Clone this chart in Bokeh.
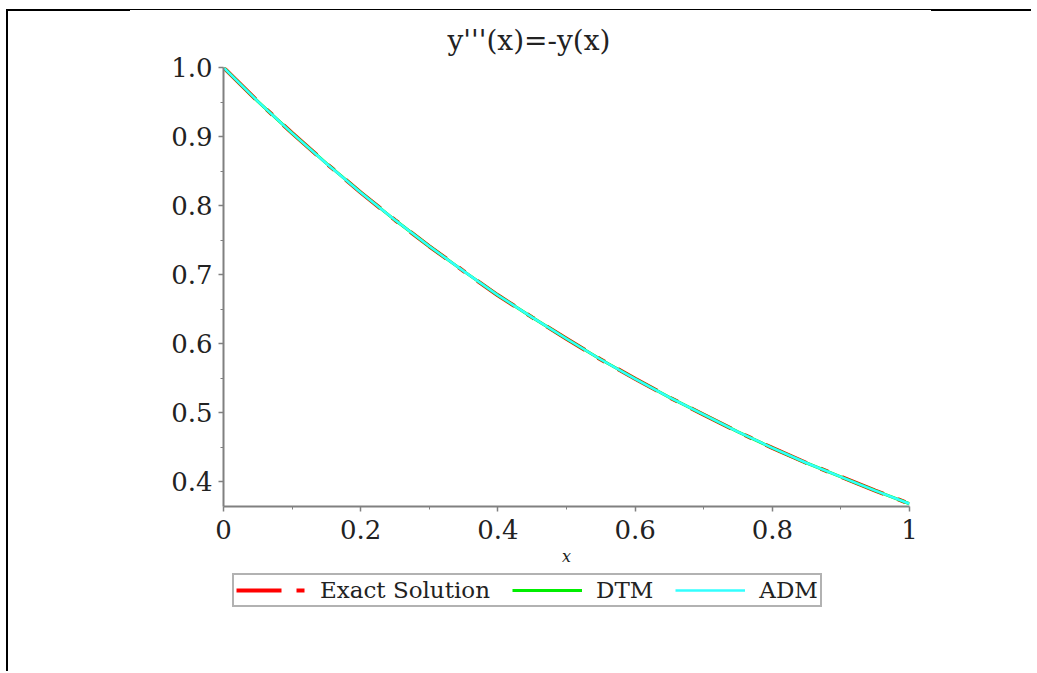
from bokeh.plotting import figure
from bokeh.embed import file_html
from bokeh.resources import INLINE
from bokeh.models import FixedTicker, Div, Legend, LegendItem
from bokeh.layouts import column, row

# data
x_vals = [0.0, 0.05, 0.1, 0.15, 0.2, 0.25, 0.3, 0.35, 0.4, 0.45, 0.5,
          0.55, 0.6, 0.65, 0.7, 0.75, 0.8, 0.85, 0.9, 0.95, 1.0]
exact_vals = [1.0, 0.951, 0.905, 0.861, 0.819, 0.779, 0.741, 0.705, 0.670, 0.638, 0.607,
              0.577, 0.549, 0.522, 0.497, 0.472, 0.449, 0.427, 0.407, 0.387, 0.368]
dtm_vals = [1.0, 0.951, 0.905, 0.861, 0.819, 0.779, 0.741, 0.705, 0.670, 0.638, 0.607,
            0.577, 0.549, 0.522, 0.497, 0.472, 0.449, 0.427, 0.407, 0.387, 0.368]
adm_vals = [1.0, 0.951, 0.905, 0.861, 0.819, 0.779, 0.741, 0.705, 0.670, 0.638, 0.607,
            0.577, 0.549, 0.522, 0.497, 0.472, 0.449, 0.427, 0.407, 0.387, 0.368]
x_ticks = [0, 0.2, 0.4, 0.6, 0.8, 1.0]
x_tick_labels = ["0", "0.2", "0.4", "0.6", "0.8", "1"]
x_minor = [0.1, 0.3, 0.5, 0.7, 0.9]
y_ticks = [0.4, 0.5, 0.6, 0.7, 0.8, 0.9, 1.0]
y_tick_labels = ["0.4", "0.5", "0.6", "0.7", "0.8", "0.9", "1.0"]
y_minor = [0.45, 0.55, 0.65, 0.75, 0.85, 0.95]
series_names = ["Exact Solution", "DTM", "ADM"]
title_text = "y'''(x)=-y(x)"
x_label = "x"

FONT = "DejaVu Serif"
GRAY = "#808080"
RED, GREEN, CYAN = "#ff0000", "#00ee00", "#33ffff"
RED_DASH = "45 15 8 15"

# ---------------- main plot ----------------
p = figure(width=1020, height=559, output_backend="svg", toolbar_location=None,
           x_range=(0, 1), y_range=(0.364, 1.0),
           min_border_left=215, min_border_right=119,
           min_border_top=56, min_border_bottom=64)

p.title.text = title_text
p.title.text_font = FONT
p.title.text_font_size = "28px"
p.title.text_font_style = "normal"
p.title.text_color = "#222222"
p.title.align = "left"
p.title.offset = 224
p.title.standoff = 21

p.outline_line_color = None
p.xgrid.visible = False
p.ygrid.visible = False
p.background_fill_color = "white"
p.border_fill_color = "white"

for ax in (p.xaxis[0], p.yaxis[0]):
    ax.axis_line_color = GRAY
    ax.axis_line_width = 2
    ax.major_tick_line_color = GRAY
    ax.major_tick_line_width = 1.5
    ax.minor_tick_line_color = GRAY
    ax.major_tick_out = 5
    ax.major_tick_in = 0
    ax.minor_tick_out = 3
    ax.minor_tick_in = 0
    ax.major_label_text_font = FONT
    ax.major_label_text_font_size = "26px"
    ax.major_label_text_color = "#222222"

p.xaxis.ticker = FixedTicker(ticks=x_ticks, minor_ticks=x_minor)
p.xaxis.major_label_overrides = dict(zip(x_ticks, x_tick_labels))
p.yaxis.ticker = FixedTicker(ticks=y_ticks, minor_ticks=y_minor)
p.yaxis.major_label_overrides = dict(zip(y_ticks, y_tick_labels))
p.xaxis.major_label_standoff = 8
p.yaxis.major_label_standoff = 6

p.xaxis.axis_label = x_label
p.xaxis.axis_label_text_font = FONT
p.xaxis.axis_label_text_font_style = "italic"
p.xaxis.axis_label_text_font_size = "16px"
p.xaxis.axis_label_text_color = "#222222"
p.xaxis.axis_label_standoff = 5

p.line(x_vals, exact_vals, line_color=RED, line_width=4, line_dash=RED_DASH)
p.line(x_vals, dtm_vals, line_color=GREEN, line_width=3)
p.line(x_vals, adm_vals, line_color=CYAN, line_width=2.5)

# ---------------- legend strip (its series lie outside its own view) ----------------
pl = figure(width=1020, height=95, output_backend="svg", toolbar_location=None,
            x_axis_location=None, y_axis_location=None, min_border=0,
            x_range=(10, 11), y_range=(10, 11))
pl.outline_line_color = None
pl.xgrid.visible = False
pl.ygrid.visible = False
pl.border_fill_color = "white"

k_exact = pl.line(x_vals, exact_vals, line_color=RED, line_width=4, line_dash=RED_DASH)
k_dtm = pl.line(x_vals, dtm_vals, line_color=GREEN, line_width=3)
k_adm = pl.line(x_vals, adm_vals, line_color=CYAN, line_width=2.5)

lg = Legend(items=[LegendItem(label=series_names[0], renderers=[k_exact]),
                   LegendItem(label=series_names[1], renderers=[k_dtm]),
                   LegendItem(label=series_names[2], renderers=[k_adm])])
lg.orientation = "horizontal"
lg.location = (9, 58)
lg.label_text_font = FONT
lg.label_text_font_size = "23px"
lg.label_text_color = "#222222"
lg.glyph_width = 70
lg.label_standoff = 14
lg.spacing = 22
lg.padding = 2
lg.margin = 0
lg.border_line_color = "#666666"
lg.border_line_width = 2
lg.background_fill_alpha = 1.0
pl.add_layout(lg, "center")

# ---------------- page frame lines ----------------
top_strip = row(
    Div(width=124, height=2, margin=(9, 0, 0, 6), styles={"background-color": "black"}),
    Div(width=801, height=2, margin=(9, 0, 0, 0),
        styles={"border-top": "1px solid black", "box-sizing": "border-box"}),
    Div(width=100, height=2, margin=(9, 0, 0, 0), styles={"background-color": "black"}),
    spacing=0,
)
left_strip = Div(width=2, height=660, margin=(0, 0, 0, 6), styles={"background-color": "black"})
layout = column(top_strip, row(left_strip, column(p, pl, spacing=0), spacing=0), spacing=0)

open("out.html", "w").write(file_html(layout, INLINE))
